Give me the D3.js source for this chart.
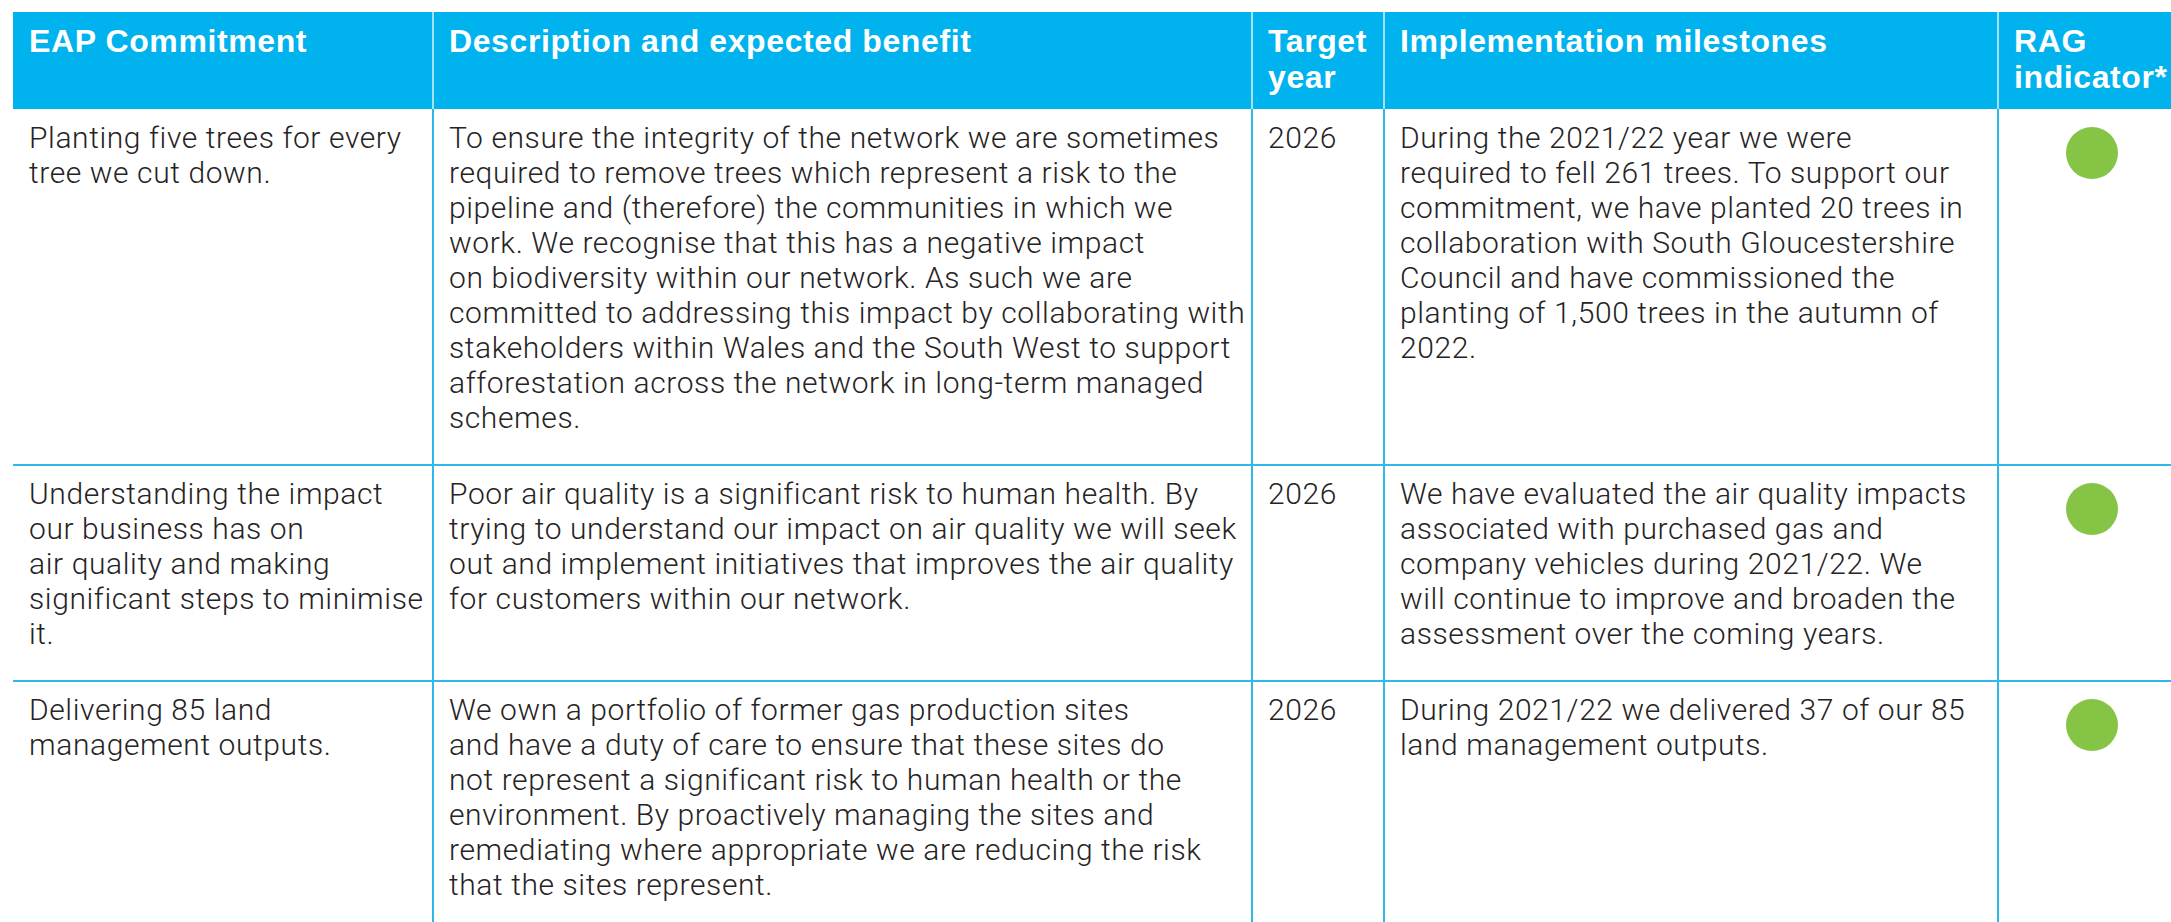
<!DOCTYPE html>
<html>
<head>
<meta charset="utf-8">
<script src="https://cdn.jsdelivr.net/npm/d3@7"></script>
<style>
  body { margin: 0; background: #fff; overflow: hidden; }
  svg { display: block; }
</style>
</head>
<body>
<div id="table"></div>
<script>
// EAP commitments table, rows and columns

const headers = [
    ["EAP Commitment"],
    ["Description and expected benefit"],
    ["Target", "year"],
    ["Implementation milestones"],
    ["RAG", "indicator*"]
];

const commitments = [
    ["Planting five trees for every", "tree we cut down."],
    ["Understanding the impact", "our business has on", "air quality and making", "significant steps to minimise", "it."],
    ["Delivering 85 land", "management outputs."]
];

const descriptions = [
    ["To ensure the integrity of the network we are sometimes",
     "required to remove trees which represent a risk to the",
     "pipeline and (therefore) the communities in which we",
     "work. We recognise that this has a negative impact",
     "on biodiversity within our network. As such we are",
     "committed to addressing this impact by collaborating with",
     "stakeholders within Wales and the South West to support",
     "afforestation across the network in long-term managed",
     "schemes."],
    ["Poor air quality is a significant risk to human health. By",
     "trying to understand our impact on air quality we will seek",
     "out and implement initiatives that improves the air quality",
     "for customers within our network."],
    ["We own a portfolio of former gas production sites",
     "and have a duty of care to ensure that these sites do",
     "not represent a significant risk to human health or the",
     "environment. By proactively managing the sites and",
     "remediating where appropriate we are reducing the risk",
     "that the sites represent."]
];

const targetYears = [["2026"], ["2026"], ["2026"]];

const milestones = [
    ["During the 2021/22 year we were",
     "required to fell 261 trees. To support our",
     "commitment, we have planted 20 trees in",
     "collaboration with South Gloucestershire",
     "Council and have commissioned the",
     "planting of 1,500 trees in the autumn of",
     "2022."],
    ["We have evaluated the air quality impacts",
     "associated with purchased gas and",
     "company vehicles during 2021/22. We",
     "will continue to improve and broaden the",
     "assessment over the coming years."],
    ["During 2021/22 we delivered 37 of our 85",
     "land management outputs."]
];

const ragStatus = ["green", "green", "green"];

// Layout
const width = 2171, height = 922;
const colEdges = [13, 433, 1252, 1384, 1998, 2186];
const tableTop = 12, headerHeight = 97;
const padX = 16, firstBaseline = 39, lineHeight = 35, bottomPad = 37;
const headerBaseline = 40, headerLineHeight = 36;

const blue = "#00b3ee", lineBlue = "#2fb8ea", textColor = "#262324";
const ragColors = { green: "#86c446", amber: "#f7a823", red: "#e2231a" };

const rows = commitments.map((c, i) => [c, descriptions[i], targetYears[i], milestones[i]]);

// Row heights follow the tallest cell
const rowHeights = rows.map(r => firstBaseline + (d3.max(r, cell => cell.length) - 1) * lineHeight + bottomPad);
const rowTops = [];
rowHeights.reduce((y, h) => { rowTops.push(y); return y + h; }, tableTop + headerHeight);

const svg = d3.select("#table").append("svg")
    .attr("width", width)
    .attr("height", height);

// Header band
svg.append("rect")
   .attr("x", colEdges[0])
   .attr("y", tableTop)
   .attr("width", colEdges[colEdges.length - 1] - colEdges[0])
   .attr("height", headerHeight)
   .attr("fill", blue);

// White separators inside the header
svg.append("g")
   .selectAll("line")
   .data(colEdges.slice(1, -1))
   .enter()
   .append("line")
   .attr("x1", d => d).attr("x2", d => d)
   .attr("y1", tableTop).attr("y2", tableTop + headerHeight)
   .attr("stroke", "#d8f1fb")
   .attr("stroke-width", 1.5);

// Header labels
const headerText = svg.append("g")
    .selectAll("text")
    .data(headers)
    .enter()
    .append("text")
    .attr("x", (d, i) => colEdges[i] + padX)
    .attr("y", tableTop + headerBaseline)
    .attr("fill", "#fff")
    .style("font-family", "'Liberation Sans', Arial, sans-serif")
    .style("font-weight", "bold")
    .style("font-size", "32px")
    .style("letter-spacing", "0.6px");
headerText.selectAll("tspan")
    .data(d => d)
    .enter()
    .append("tspan")
    .attr("x", function () { return this.parentNode.getAttribute("x"); })
    .attr("dy", (d, i) => i === 0 ? 0 : headerLineHeight)
    .text(d => d);

// Body cells
const rowGroups = svg.append("g")
    .selectAll("g.row")
    .data(rows)
    .enter()
    .append("g")
    .attr("class", "row")
    .attr("transform", (d, i) => "translate(0," + rowTops[i] + ")");

const cells = rowGroups.selectAll("text")
    .data(d => d)
    .enter()
    .append("text")
    .attr("x", (d, i) => colEdges[i] + padX)
    .attr("y", firstBaseline)
    .attr("fill", textColor)
    .style("font-family", "Roboto, sans-serif")
    .style("font-weight", 300)
    .style("font-size", "30px")
    .style("letter-spacing", "0.6px");
cells.selectAll("tspan")
    .data(d => d)
    .enter()
    .append("tspan")
    .attr("x", function () { return this.parentNode.getAttribute("x"); })
    .attr("dy", (d, i) => i === 0 ? 0 : lineHeight)
    .text(d => d);

// RAG indicator dots
rowGroups.append("circle")
    .attr("cx", (colEdges[4] + colEdges[5]) / 2)
    .attr("cy", 44)
    .attr("r", 26)
    .attr("fill", (d, i) => ragColors[ragStatus[i]]);

// Horizontal rules below each row
svg.append("g")
   .selectAll("line")
   .data(rowTops.slice(1))
   .enter()
   .append("line")
   .attr("x1", colEdges[0]).attr("x2", colEdges[colEdges.length - 1])
   .attr("y1", d => d).attr("y2", d => d)
   .attr("stroke", lineBlue)
   .attr("stroke-width", 2);

// Vertical rules in the body
svg.append("g")
   .selectAll("line")
   .data(colEdges.slice(1, -1))
   .enter()
   .append("line")
   .attr("x1", d => d).attr("x2", d => d)
   .attr("y1", tableTop + headerHeight).attr("y2", height + 10)
   .attr("stroke", lineBlue)
   .attr("stroke-width", 2);
</script>
</body>
</html>
